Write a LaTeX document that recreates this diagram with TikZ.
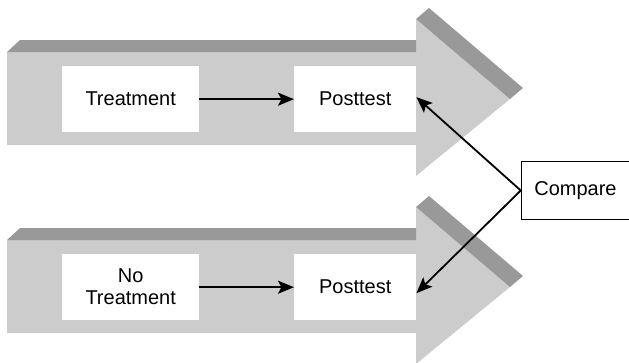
\documentclass[tikz,border=0pt]{standalone}
\usepackage{fontspec}
\setmainfont{Liberation Sans}
\usetikzlibrary{arrows.meta}
\definecolor{bodygray}{HTML}{CCCCCC}
\definecolor{edgegray}{HTML}{999999}
\tikzset{
  labelbox/.style={fill=white, inner sep=0pt, anchor=north west, align=center,
    font=\fontsize{20}{22}\selectfont},
  flow/.style={line width=2.2pt, -{Stealth[length=16pt,width=13pt,inset=3.5pt]}},
  link/.style={line width=1.8pt, -{Stealth[length=16pt,width=13pt,inset=3.5pt]}},
}
% one three-dimensional block arrow, shifted down by #1
\newcommand{\blockarrow}[1]{%
  \begin{scope}[yshift=-#1pt]
    \fill[bodygray] (7,52) -- (416,52) -- (416,19) -- (510,99) -- (416,176)
      -- (416,145) -- (7,145) -- cycle;
    \fill[edgegray] (7,52) -- (20,40) -- (416,40) -- (416,52) -- cycle;
    \fill[edgegray] (416,19) -- (429,8) -- (523,88) -- (510,99) -- cycle;
  \end{scope}}
\begin{document}
\begin{tikzpicture}[x=1pt, y=-1pt]
  \useasboundingbox (0,0) rectangle (629,362);
  \begin{scope}
    \clip (0,0) rectangle (629,362);
    \blockarrow{0}
    \blockarrow{188}
  \end{scope}

  % upper path
  \node[labelbox, minimum width=137pt, minimum height=66pt] (t1) at (62,66) {Treatment};
  \node[labelbox, minimum width=122pt, minimum height=66pt] (p1) at (294,66) {Posttest};
  % lower path
  \node[labelbox, minimum width=137pt, minimum height=66pt] (t2) at (62,254) {No\\Treatment};
  \node[labelbox, minimum width=122pt, minimum height=66pt] (p2) at (294,254) {Posttest};
  % comparison
  \node[labelbox, draw=black, line width=1.5pt, minimum width=108pt, minimum height=58pt]
    (cmp) at (520.75,160.75) {Compare};

  \draw[flow] (t1.east) -- (p1.west);
  \draw[flow] (t2.east) -- (p2.west);
  \draw[link] (cmp.west) -- ([yshift=2pt]p1.east);
  \draw[link] (cmp.west) -- ([yshift=-6pt]p2.east);
\end{tikzpicture}
\end{document}
